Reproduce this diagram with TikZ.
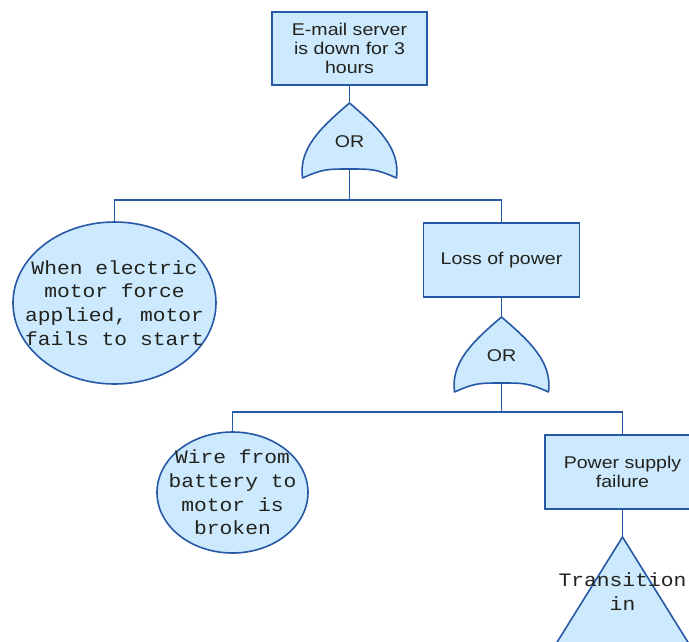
\documentclass[tikz,border=0pt]{standalone}
\usepackage{fontspec}
\setmainfont{Liberation Sans}[FakeStretch=1.15]
\newfontfamily\eventmono{Liberation Mono}[FakeStretch=1.12]
\usetikzlibrary{shapes.geometric}
\definecolor{ftfill}{RGB}{204,233,253}
\definecolor{ftline}{RGB}{38,88,165}
\definecolor{fttext}{RGB}{34,34,30}
\tikzset{
  ftlink/.style={draw=ftline, line width=1.6pt},
  eventbox/.style={draw=ftline, fill=ftfill, line width=1.6pt, rectangle,
    minimum width=155pt, minimum height=73pt, inner sep=0pt, align=center,
    text=fttext, font=\fontsize{17}{19}\selectfont},
  basicevent/.style={draw=ftline, fill=ftfill, line width=1.6pt, ellipse, inner sep=0pt},
  monolabel/.style={align=center, text=fttext, font=\eventmono\fontsize{19}{23.8}\selectfont, inner sep=0pt},
  gatelabel/.style={text=fttext, font=\fontsize{17}{19}\selectfont, inner sep=0pt},
  gateshape/.style={draw=ftline, fill=ftfill, line width=1.6pt, line join=round}
}
% OR gate drawn from its apex coordinate; #1 = apex name, #2 = bottom-middle name
\newcommand{\orgate}[3]{%
  \path[gateshape] (#1) .. controls ++(-28,24) and ++(-4,-30) .. ++(-47,75)
     .. controls ++(20,-9) and ++(-22,0) .. (#2)
     .. controls ++(22,0) and ++(-20,-9) .. ++(47,9)
     .. controls ++(4,-30) and ++(28,24) .. (#1);
  \node[gatelabel] at ($(#1)+(0,39)$) {#3};
}
\usetikzlibrary{calc}
\begin{document}
\begin{tikzpicture}[x=1pt,y=-1pt]
\useasboundingbox (0,0) rectangle (689,641);

% top event
\node[eventbox] (top) at (349.5,48.5) {E-mail server\\is down for 3\\hours};

% first OR gate
\coordinate (g1top) at (349.5,103);
\coordinate (g1bot) at (349.5,169);
\orgate{g1top}{g1bot}{OR}
\draw[ftlink] (top.south) -- (g1top);

% first level
\coordinate (bar1) at (349.5,200);
\node[basicevent, minimum width=203pt, minimum height=162pt] (motor) at (114.5,303) {};
\node[monolabel] (motortxt) at (motor.center) {When electric\\motor force\\applied, motor\\fails to start};
\node[eventbox, minimum width=156pt, minimum height=74pt] (loss) at (501.5,260) {Loss of power};
\draw[ftlink] (g1bot) -- (bar1) -| (motor.north);
\draw[ftlink] (bar1) -| (loss.north);

% second OR gate
\coordinate (g2top) at (501.5,317);
\coordinate (g2bot) at (501.5,383);
\orgate{g2top}{g2bot}{OR}
\draw[ftlink] (loss.south) -- (g2top);

% second level
\coordinate (bar2) at (501.5,412);
\node[basicevent, minimum width=151pt, minimum height=121pt] (wire) at (232.5,492.5) {};
\node[monolabel] (wiretxt) at (wire.center) {Wire from\\battery to\\motor is\\broken};
\node[eventbox, minimum width=155pt, minimum height=74pt] (psu) at (622.5,472) {Power supply\\failure};
\draw[ftlink] (g2bot) -- (bar2) -| (wire.north);
\draw[ftlink] (bar2) -| (psu.north);

% transfer-in triangle
\coordinate (tri) at (622.5,537);
\path[gateshape] (tri) -- ++(-112,180) -- ++(224,0) -- cycle;
\draw[ftlink] (psu.south) -- (tri);
\node[monolabel] (tritxt) at (622.5,591.5) {Transition\\in};
\end{tikzpicture}
\end{document}
